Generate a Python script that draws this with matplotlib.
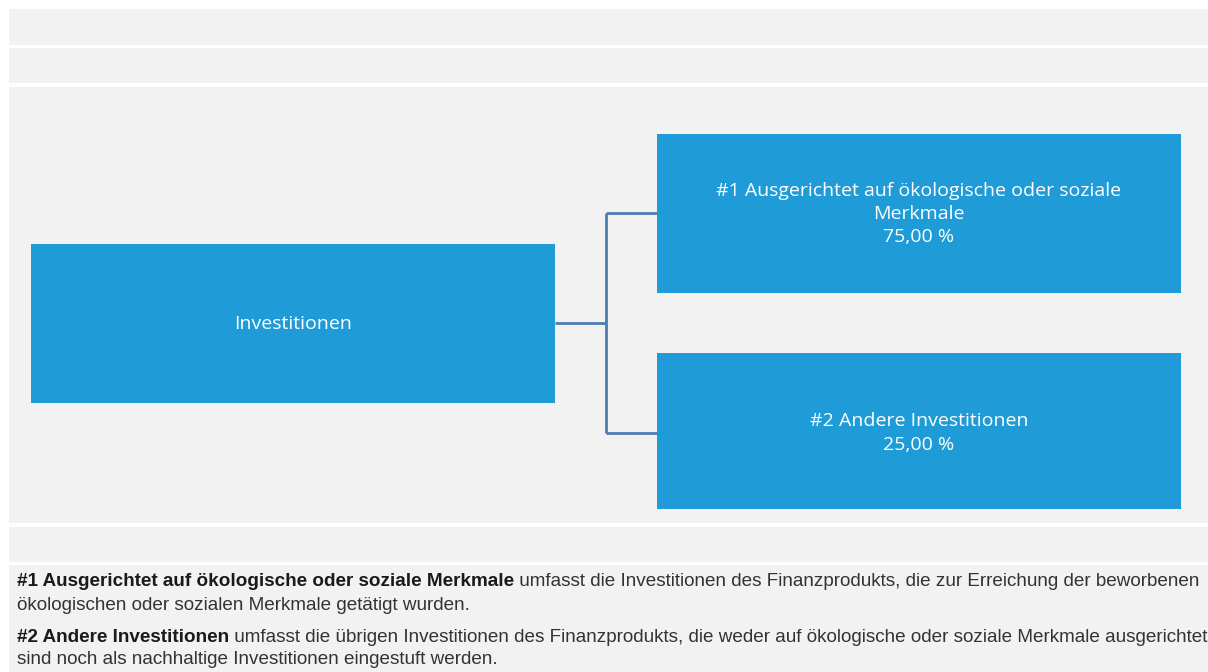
import matplotlib
matplotlib.use("Agg")
import matplotlib.pyplot as plt
from matplotlib.patches import Rectangle

# ---- data ----
root_label = "Investitionen"
categories = ["#1 Ausgerichtet auf ökologische oder soziale\nMerkmale", "#2 Andere Investitionen"]
shares = [75.00, 25.00]
notes_bold = ["#1 Ausgerichtet auf ökologische oder soziale Merkmale", "#2 Andere Investitionen"]
notes_rest = [
    [" umfasst die Investitionen des Finanzprodukts, die zur Erreichung der beworbenen",
     "ökologischen oder sozialen Merkmale getätigt wurden."],
    [" umfasst die übrigen Investitionen des Finanzprodukts, die weder auf ökologische oder soziale Merkmale ausgerichtet",
     "sind noch als nachhaltige Investitionen eingestuft werden."],
]

W, H = 1208, 672
fig = plt.figure(figsize=(W / 100, H / 100), dpi=100)
ax = fig.add_axes([0, 0, 1, 1])
ax.set_xlim(0, W)
ax.set_ylim(H, 0)
ax.axis("off")
fig.patch.set_facecolor("white")

gray = "#f2f2f2"
blue = "#1f9bd7"
line_c = "#4e7db4"

# background bands
bands = [(9, 44.5), (48, 83), (86.5, 522.5), (526.5, 561.5), (564.5, 672)]
for y0, y1 in bands:
    ax.add_patch(Rectangle((9, y0), W - 9, y1 - y0, facecolor=gray, edgecolor="none"))

box_font = ["Open Sans", "DejaVu Sans"]
bfs = 14.0

# root box
rx0, rx1, ry0, ry1 = 31, 555, 243.5, 403
ax.add_patch(Rectangle((rx0, ry0), rx1 - rx0, ry1 - ry0, facecolor=blue, edgecolor="none"))
ax.text((rx0 + rx1) / 2, (ry0 + ry1) / 2 + 1, root_label, color="white", ha="center", va="center",
        fontsize=bfs, family=box_font)

# child boxes
cx0, cx1 = 657, 1181
child_y = [(134, 293), (353, 509)]
text_y = [214, 433]
jx = 606
for (y0, y1), lab, val, ty in zip(child_y, categories, shares, text_y):
    ax.add_patch(Rectangle((cx0, y0), cx1 - cx0, y1 - y0, facecolor=blue, edgecolor="none"))
    s = f"{lab}\n{val:.2f} %".replace(".", ",")
    ax.text((cx0 + cx1) / 2, ty, s, color="white", ha="center", va="center",
            fontsize=bfs, family=box_font, linespacing=1.36)

# connectors
ymid = (ry0 + ry1) / 2
conn_y = [213, 433]
ax.plot([rx1, jx], [ymid, ymid], color=line_c, lw=2, solid_capstyle="butt")
ax.plot([jx, jx], [conn_y[0], conn_y[1]], color=line_c, lw=2, solid_capstyle="butt")
for cy in conn_y:
    ax.plot([jx, cx0], [cy, cy], color=line_c, lw=2, solid_capstyle="butt")

# notes
fig.canvas.draw()
renderer = fig.canvas.get_renderer()
note_font = ["Liberation Sans", "DejaVu Sans"]
fs = 13.6
note_y = [(581, 605), (637, 660)]
tx = 17
for b, rest, (y1, y2) in zip(notes_bold, notes_rest, note_y):
    t = ax.text(tx, y1, b, fontsize=fs, fontweight="bold", family=note_font, color="#1a1a1a",
                ha="left", va="center")
    bb = t.get_window_extent(renderer=renderer)
    x_end = ax.transData.inverted().transform((bb.x1, bb.y0))[0]
    ax.text(x_end, y1, rest[0], fontsize=fs, family=note_font, color="#333333", ha="left", va="center")
    ax.text(tx, y2, rest[1], fontsize=fs, family=note_font, color="#333333", ha="left", va="center")

fig.savefig("out.png", dpi=100, facecolor="white")
